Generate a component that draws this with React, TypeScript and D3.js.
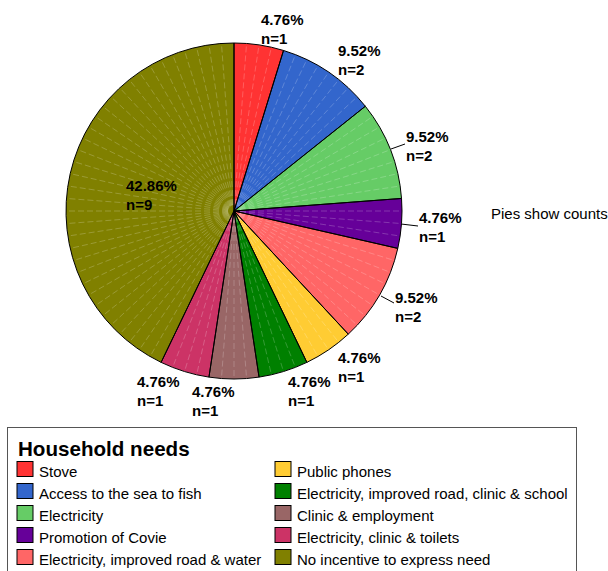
import React from "react";
import * as d3 from "d3";

const categories = [
  "Stove",
  "Access to the sea to fish",
  "Electricity",
  "Promotion of Covie",
  "Electricity, improved road & water",
  "Public phones",
  "Electricity, improved road, clinic & school",
  "Clinic & employment",
  "Electricity, clinic & toilets",
  "No incentive to express need",
];
const counts = [1, 2, 2, 1, 2, 1, 1, 1, 1, 9];
const colors = [
  "#FF3333",
  "#3366CC",
  "#66CC66",
  "#660099",
  "#FF6666",
  "#FFCC33",
  "#008000",
  "#996666",
  "#CC3366",
  "#808000",
];

// layout of labels (text anchor positions) and optional leader lines
const labelLayout: { x: number; y: number; leader?: [number, number, number, number] }[] = [
  { x: 261, y: 25 },
  { x: 338, y: 56 },
  { x: 406, y: 142, leader: [391, 149, 405, 144] },
  { x: 419, y: 223, leader: [401, 224, 418, 226] },
  { x: 395, y: 303, leader: [381, 296, 394, 303] },
  { x: 338, y: 363 },
  { x: 288, y: 387 },
  { x: 192, y: 397 },
  { x: 137, y: 387 },
  { x: 126, y: 191 },
];

const W = 608;
const H = 571;
const cx = 234;
const cy = 211;
const R = 168;
const FONT = "'Liberation Sans', Arial, Helvetica, sans-serif";

export default function App() {
  const total = d3.sum(counts);
  const pie = d3
    .pie<number>()
    .sort(null)
    .value((d) => d);
  const arcs = pie(counts);
  const arcGen = d3.arc<d3.PieArcDatum<number>>().innerRadius(0).outerRadius(R);

  // faint subdivision rays: 4 per count unit
  const sub = 4;
  const nRays = total * sub;
  const rays = d3.range(nRays).filter((i) => {
    const unit = i / sub;
    let acc = 0;
    for (const c of counts) {
      if (Math.abs(acc - unit) < 1e-9) return false;
      acc += c;
    }
    return true;
  });

  const col1 = categories.slice(0, 5);
  const col2 = categories.slice(5);

  return (
    <svg
      width={W}
      height={H}
      style={{ position: "absolute", left: 0, top: 0, fontFamily: FONT }}
    >
      <rect x={0} y={0} width={W} height={H} fill="#ffffff" />
      <g transform={`translate(${cx},${cy})`}>
        {arcs.map((a, i) => (
          <path key={i} d={arcGen(a) || ""} fill={colors[i]} stroke="none" />
        ))}
        {rays.map((i) => {
          const ang = (i / nRays) * 2 * Math.PI;
          return (
            <line
              key={"r" + i}
              x1={Math.sin(ang) * 6}
              y1={-Math.cos(ang) * 6}
              x2={Math.sin(ang) * R}
              y2={-Math.cos(ang) * R}
              stroke="#ffffff"
              strokeOpacity={0.3}
              strokeWidth={0.7}
              strokeDasharray="6,3"
            />
          );
        })}
        {arcs.map((a, i) => (
          <path
            key={"o" + i}
            d={arcGen(a) || ""}
            fill="none"
            stroke="#000000"
            strokeWidth={1}
            strokeLinejoin="round"
          />
        ))}
      </g>
      {arcs.map((a, i) => {
        const L = labelLayout[i];
        const pct = ((counts[i] / total) * 100).toFixed(2) + "%";
        return (
          <g key={"l" + i}>
            {L.leader && (
              <line
                x1={L.leader[0]}
                y1={L.leader[1]}
                x2={L.leader[2]}
                y2={L.leader[3]}
                stroke="#000"
                strokeWidth={1}
              />
            )}
            <text x={L.x} y={L.y} fontSize={15} fontWeight="bold" fill="#000">
              {pct}
            </text>
            <text x={L.x} y={L.y + 19} fontSize={15} fontWeight="bold" fill="#000">
              {"n=" + counts[i]}
            </text>
          </g>
        );
      })}
      <text x={491} y={219} fontSize={15} fill="#000">
        Pies show counts
      </text>

      {/* Legend */}
      <rect x={7.5} y={427.5} width={569} height={160} fill="#fff" stroke="#555" strokeWidth={1} />
      <text x={18} y={456} fontSize={20.6} fontWeight="bold" fill="#000">
        Household needs
      </text>
      {col1.map((c, i) => (
        <g key={"a" + i}>
          <rect x={17} y={461.5 + i * 22} width={16} height={15} fill={colors[i]} stroke="#000" strokeWidth={1} />
          <text x={39} y={477 + i * 22} fontSize={15} fill="#000">
            {c}
          </text>
        </g>
      ))}
      {col2.map((c, i) => (
        <g key={"b" + i}>
          <rect x={275} y={461.5 + i * 22} width={16} height={15} fill={colors[i + 5]} stroke="#000" strokeWidth={1} />
          <text x={297} y={477 + i * 22} fontSize={15} fill="#000">
            {c}
          </text>
        </g>
      ))}
    </svg>
  );
}
